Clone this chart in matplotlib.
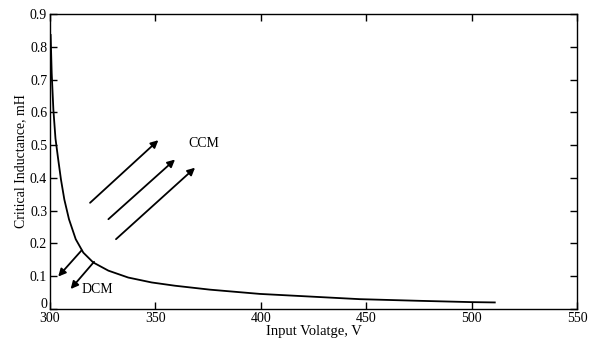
import matplotlib
matplotlib.use("Agg")
import matplotlib.pyplot as plt
import matplotlib.transforms as mtransforms

plt.rcParams['font.family'] = ['Liberation Serif', 'DejaVu Serif']

# Curve data
voltage = [300.3, 300.8, 301.6, 302.6, 303.9, 305.2, 306.8, 309.0, 312.2, 315.8,
           320.5, 327.7, 337.1, 348.2, 359.3, 375.9, 399.6, 423.3, 447.0, 475.0,
           500.0, 511.0]
inductance = [0.836, 0.72, 0.608, 0.52, 0.456, 0.395, 0.334, 0.274, 0.213, 0.172,
              0.142, 0.117, 0.096, 0.081, 0.071, 0.059, 0.046, 0.038, 0.030, 0.025,
              0.021, 0.020]

x_ticks = [300, 350, 400, 450, 500, 550]
y_ticks = [0, 0.1, 0.2, 0.3, 0.4, 0.5, 0.6, 0.7, 0.8, 0.9]
y_tick_labels = ['0', '0.1', '0.2', '0.3', '0.4', '0.5', '0.6', '0.7', '0.8', '0.9']

# Annotation arrows: (tail, head) in data coordinates
ccm_arrows = [((319.0, 0.324), (351.4, 0.515)),
              ((327.7, 0.274), (359.3, 0.456)),
              ((331.3, 0.213), (368.8, 0.431))]
dcm_arrows = [((315.0, 0.179), (303.9, 0.099)),
              ((320.9, 0.144), (309.8, 0.061))]
ccm_label_pos = (365.5, 0.505)
dcm_label_pos = (315.0, 0.058)

fig = plt.figure(figsize=(5.89, 3.41), dpi=100)
ax = fig.add_axes([50/589, 32/341, 527/589, 295/341])

ax.plot(voltage, inductance, color='black', lw=1.3, solid_joinstyle='round')

for tail, head in ccm_arrows + dcm_arrows:
    ax.annotate('', xy=head, xytext=tail,
                arrowprops=dict(arrowstyle='-|>', color='black', lw=1.3,
                                mutation_scale=11, shrinkA=0, shrinkB=0))

ax.text(ccm_label_pos[0], ccm_label_pos[1], 'CCM', fontsize=10, va='center', ha='left')
ax.text(dcm_label_pos[0], dcm_label_pos[1], 'DCM', fontsize=10, va='center', ha='left')

ax.set_xlim(300, 550)
ax.set_ylim(0, 0.9)
ax.set_xticks(x_ticks)
ax.set_yticks(y_ticks)
ax.set_yticklabels(y_tick_labels)
ax.tick_params(direction='in', top=True, right=True, length=5, width=1,
               labelsize=10, pad=2)
for s in ax.spines.values():
    s.set_linewidth(1.0)

# lift the "0" label slightly (as in the reference) so it does not collide with "300"
ylab0 = ax.get_yticklabels()[0]
ylab0.set_transform(ylab0.get_transform() +
                    mtransforms.ScaledTranslation(0, 4/72, fig.dpi_scale_trans))

ax.set_xlabel('Input Volatge, V', fontsize=10.5, labelpad=0)
ax.set_ylabel('Critical Inductance, mH', fontsize=10, labelpad=2)

fig.savefig('out.png', dpi=100)
